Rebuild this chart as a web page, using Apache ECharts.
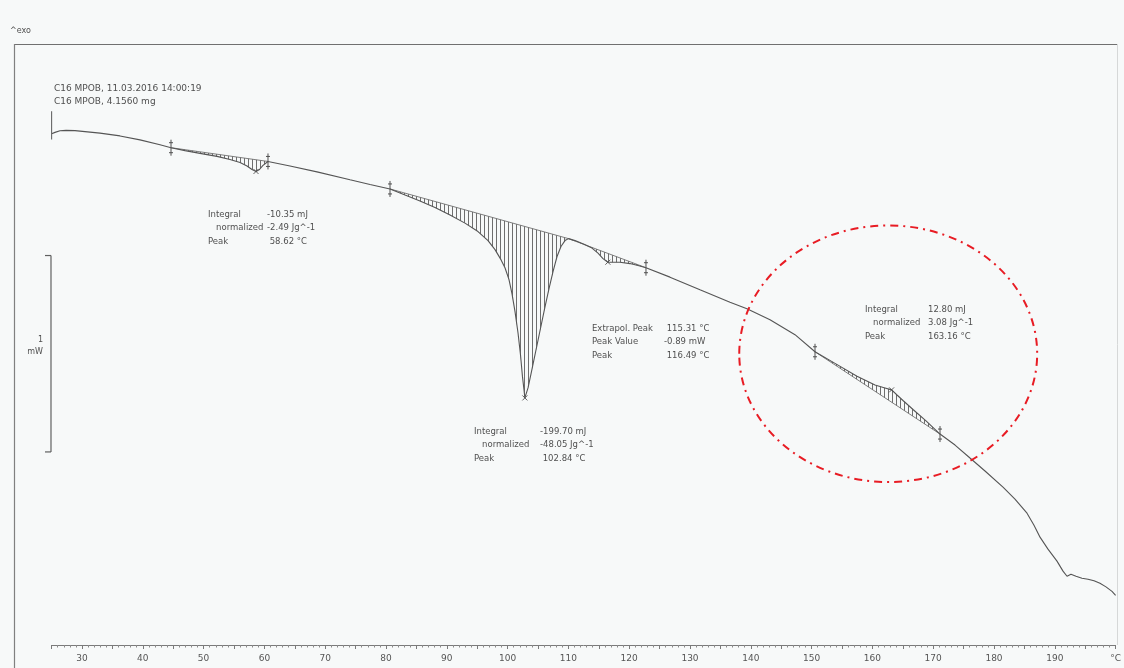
<!DOCTYPE html>
<html>
<head>
<meta charset="utf-8">
<title>DSC C16 MPOB</title>
<script src="https://cdn.jsdelivr.net/npm/echarts@6/dist/echarts.min.js"></script>
<style>
  html, body { margin: 0; padding: 0; background: #f7f9f9; }
  #chart { width: 1124px; height: 668px; }
</style>
</head>
<body>
<div id="chart"></div>
<script>
// DSC heating curve, temperature in °C, heat flow in mW (exo up)
const temperature = [
  25.00, 25.56, 26.38, 27.37, 28.85, 30.49, 32.96, 36.25, 39.54, 42.83,
  44.64, 46.94, 49.41, 52.20, 54.34, 55.99, 57.14, 57.96, 58.62, 59.19,
  59.77, 60.59, 64.21, 68.65, 74.08, 77.37, 80.66, 83.13, 85.59, 88.06,
  90.53, 92.99, 95.13, 96.78, 97.93, 98.91, 99.57, 100.23, 100.72, 101.22,
  101.71, 102.12, 102.45, 102.70, 102.84, 103.03, 103.36, 103.85, 104.51, 105.33,
  106.15, 106.81, 107.47, 108.13, 108.78, 109.44, 110.02, 111.09, 112.57, 113.88,
  114.87, 115.69, 116.49, 117.17, 118.49, 120.13, 121.45, 122.76, 126.71, 131.64,
  136.58, 139.37, 143.16, 147.27, 150.56, 153.85, 157.47, 160.43, 162.07, 163.16,
  164.05, 165.03, 166.68, 168.82, 171.12, 173.59, 176.05, 178.52, 181.48, 183.45,
  185.43, 186.58, 187.57, 188.88, 190.36, 191.35, 192.01, 192.66, 193.49, 194.47,
  195.46, 196.45, 197.43, 198.42, 199.41, 200.00
];
const heatFlow = [
  0.003, 0.010, 0.018, 0.020, 0.019, 0.014, 0.006, -0.008, -0.028, -0.053,
  -0.068, -0.083, -0.097, -0.112, -0.128, -0.143, -0.161, -0.179, -0.189, -0.179,
  -0.158, -0.138, -0.161, -0.191, -0.231, -0.255, -0.278, -0.309, -0.339, -0.372,
  -0.411, -0.452, -0.495, -0.541, -0.587, -0.638, -0.679, -0.740, -0.811, -0.903,
  -1.010, -1.122, -1.235, -1.301, -1.342, -1.332, -1.291, -1.219, -1.122, -1.000,
  -0.878, -0.786, -0.699, -0.622, -0.571, -0.541, -0.531, -0.541, -0.559, -0.579,
  -0.605, -0.633, -0.651, -0.651, -0.651, -0.658, -0.668, -0.679, -0.727, -0.791,
  -0.855, -0.888, -0.944, -1.020, -1.107, -1.166, -1.232, -1.276, -1.291, -1.301,
  -1.327, -1.355, -1.401, -1.459, -1.526, -1.582, -1.648, -1.714, -1.796, -1.857,
  -1.929, -1.990, -2.051, -2.112, -2.173, -2.224, -2.250, -2.240, -2.250, -2.260,
  -2.265, -2.273, -2.286, -2.304, -2.327, -2.347
];

// Evaluated ranges (hatched against a straight baseline)
const integrationRanges = [[44.64, 60.59], [80.66, 110.02], [110.02, 122.76], [150.56, 171.12]];
// Integration limit marks on the curve
const limitTemps = [44.64, 60.59, 80.66, 122.76, 150.56, 171.12];
// Peak temperatures of the four evaluations
const peakTemps = [58.62, 102.84, 116.49, 163.16];
// Start of the measurement
const startMark = [[25.00, 0.117], [25.00, -0.026]];
// Scale bar length in mW
const scaleBarMW = 1;

const sampleInfo = ['C16 MPOB, 11.03.2016 14:00:19', 'C16 MPOB, 4.1560 mg'];
const evalNames = [
  ['Integral', '   normalized', 'Peak'],
  ['Integral', '   normalized', 'Peak'],
  ['Extrapol. Peak', 'Peak Value', 'Peak'],
  ['Integral', '   normalized', 'Peak']
];
const evalValues = [
  ['-10.35 mJ', '-2.49 Jg^-1'],
  ['-199.70 mJ', '-48.05 Jg^-1'],
  ['115.31 °C', '-0.89 mW'],
  ['12.80 mJ', '3.08 Jg^-1']
];

const heatAt = t => heatFlow[temperature.indexOf(t)];
const curveData = temperature.map((t, i) => [t, heatFlow[i]]);

// vertical hatch pattern for evaluated areas
const hatch = document.createElement('canvas');
hatch.width = 4; hatch.height = 4;
const hctx = hatch.getContext('2d');
hctx.fillStyle = 'rgba(75,75,75,0.8)';
hctx.fillRect(0, 0, 1, 4);

const FONT = '"DejaVu Sans", Verdana, sans-serif';
const INK = '#505050';

// annotation block placement (px): label column, value column, top
const blocks = [
  { x: 208, vx: 267, y: 208, pad: [false, false, true] },
  { x: 474, vx: 540, y: 425, pad: [false, false, true] },
  { x: 592, vx: 664, y: 322, pad: [true, false, true] },
  { x: 865, vx: 928, y: 303, pad: [false, false, false] }
];

const graphic = [
  { type: 'line', shape: { x1: 15, y1: 44.5, x2: 1117, y2: 44.5 }, style: { stroke: '#707070', lineWidth: 1.2 } },
  { type: 'line', shape: { x1: 14.5, y1: 44, x2: 14.5, y2: 668 }, style: { stroke: '#808080', lineWidth: 1.2 } },
  { type: 'line', shape: { x1: 1117.5, y1: 44, x2: 1117.5, y2: 645 }, style: { stroke: '#d6d8d8', lineWidth: 1 } },
  { type: 'text', left: 10, top: 27, style: { text: '^exo', font: '8px ' + FONT, fill: INK } },
  { type: 'text', left: 54, top: 82, style: { text: sampleInfo.join('\n'), font: '9px ' + FONT, fill: INK, lineHeight: 13 } }
];
blocks.forEach((b, i) => {
  const vals = evalValues[i].concat([peakTemps[i].toFixed(2) + ' °C']);
  graphic.push({ type: 'text', left: b.x, top: b.y,
    style: { text: evalNames[i].join('\n'), font: '8.5px ' + FONT, fill: INK, lineHeight: 13.5 } });
  graphic.push({ type: 'text', left: b.vx, top: b.y,
    style: { text: vals.map((v, k) => (b.pad[k] && v[0] !== '-' ? ' ' : '') + v).join('\n'),
      font: '8.5px ' + FONT, fill: INK, lineHeight: 13.5 } });
});

const chart = echarts.init(document.getElementById('chart'), null, { renderer: 'canvas' });
chart.setOption({
  animation: false,
  backgroundColor: '#f7f9f9',
  grid: { left: 51.6, right: 8.4, top: 44, bottom: 23, containLabel: false },
  xAxis: {
    type: 'value', min: 25, max: 200, interval: 5,
    axisLine: { show: true, onZero: false, lineStyle: { color: '#7a7a7a', width: 1 } },
    axisTick: { show: true, length: 4, lineStyle: { color: '#7a7a7a' } },
    minorTick: { show: true, splitNumber: 5, length: 2.5, lineStyle: { color: '#8a8a8a' } },
    splitLine: { show: false },
    minorSplitLine: { show: false },
    axisLabel: {
      color: '#555', fontSize: 9, fontFamily: FONT, margin: 9,
      formatter: v => v === 200 ? '°C' : (v % 10 === 0 && v >= 30 ? String(v) : '')
    }
  },
  yAxis: { type: 'value', min: -2.6, max: 0.46, show: false, splitLine: { show: false } },
  graphic: graphic,
  series: [
    {
      name: 'hatch', type: 'custom', z: 2,
      data: integrationRanges.map(r => [r[0], heatAt(r[0])]),
      renderItem: (params, api) => {
        const [a, b] = integrationRanges[params.dataIndex];
        const pts = [];
        temperature.forEach((t, i) => { if (t >= a && t <= b) pts.push(api.coord([t, heatFlow[i]])); });
        const p0 = pts[0], p1 = pts[pts.length - 1];
        return { type: 'group', children: [
          { type: 'polygon', shape: { points: pts }, style: { fill: { image: hatch, repeat: 'repeat' }, stroke: null } },
          { type: 'line', shape: { x1: p0[0], y1: p0[1], x2: p1[0], y2: p1[1] }, style: { stroke: '#606060', lineWidth: 0.8 } }
        ] };
      }
    },
    {
      name: 'curve', type: 'line', z: 3, data: curveData,
      showSymbol: false, symbol: 'none', smooth: false,
      lineStyle: { color: '#555', width: 1.1 }
    },
    {
      name: 'start', type: 'line', z: 3, data: startMark,
      showSymbol: false, symbol: 'none', lineStyle: { color: '#666', width: 1.1 }
    },
    {
      name: 'limits', type: 'custom', z: 4,
      data: limitTemps.map(t => [t, heatAt(t)]),
      renderItem: (params, api) => {
        const p = api.coord([api.value(0), api.value(1)]);
        const s = { stroke: '#505050', lineWidth: 1 };
        return { type: 'group', children: [
          { type: 'line', shape: { x1: p[0], y1: p[1] - 8, x2: p[0], y2: p[1] + 8 }, style: s },
          { type: 'line', shape: { x1: p[0] - 2, y1: p[1] - 5, x2: p[0] + 2, y2: p[1] - 5 }, style: s },
          { type: 'line', shape: { x1: p[0] - 2, y1: p[1] + 5, x2: p[0] + 2, y2: p[1] + 5 }, style: s }
        ] };
      }
    },
    {
      name: 'peaks', type: 'custom', z: 4,
      data: peakTemps.map(t => [t, heatAt(t)]),
      renderItem: (params, api) => {
        const p = api.coord([api.value(0), api.value(1)]);
        const s = { stroke: '#505050', lineWidth: 0.9 };
        return { type: 'group', children: [
          { type: 'line', shape: { x1: p[0] - 2.5, y1: p[1] - 2.5, x2: p[0] + 2.5, y2: p[1] + 2.5 }, style: s },
          { type: 'line', shape: { x1: p[0] + 2.5, y1: p[1] - 2.5, x2: p[0] - 2.5, y2: p[1] + 2.5 }, style: s }
        ] };
      }
    },
    {
      name: 'scale', type: 'custom', z: 4,
      data: [[24.9, -0.617]],
      renderItem: (params, api) => {
        const p = api.coord([api.value(0), api.value(1)]);
        const h = api.size([0, scaleBarMW])[1];
        const s = { stroke: '#606060', lineWidth: 1.2 };
        return { type: 'group', children: [
          { type: 'line', shape: { x1: p[0], y1: p[1], x2: p[0], y2: p[1] + h }, style: s },
          { type: 'line', shape: { x1: p[0] - 6, y1: p[1], x2: p[0], y2: p[1] }, style: s },
          { type: 'line', shape: { x1: p[0] - 6, y1: p[1] + h, x2: p[0], y2: p[1] + h }, style: s },
          { type: 'text', style: { text: String(scaleBarMW), x: p[0] - 8, y: p[1] + h / 2 - 14, align: 'right', verticalAlign: 'middle', font: '8px ' + FONT, fill: INK } },
          { type: 'text', style: { text: 'mW', x: p[0] - 8, y: p[1] + h / 2 - 2, align: 'right', verticalAlign: 'middle', font: '8px ' + FONT, fill: INK } }
        ] };
      }
    },
    {
      name: 'highlight', type: 'custom', z: 5,
      data: [[162.6, -1.117]],
      renderItem: (params, api) => {
        const c = api.coord([api.value(0), api.value(1)]);
        const r = api.size([24.5, 0.653]);
        return { type: 'ellipse', shape: { cx: c[0], cy: c[1], rx: r[0], ry: r[1] },
          style: { fill: null, stroke: '#e81c24', lineWidth: 2, lineDash: [8, 5, 2, 5] } };
      }
    }
  ]
});
</script>
</body>
</html>
